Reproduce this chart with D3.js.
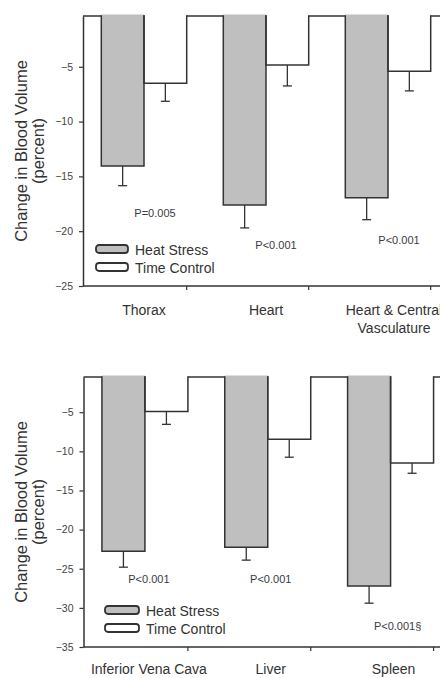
<!DOCTYPE html>
<html>
<head>
<meta charset="utf-8">
<script src="https://cdn.jsdelivr.net/npm/d3@7"></script>
<style>
  body { margin: 0; background: #fff; }
  svg { display: block; font-family: "Liberation Sans", Arial, sans-serif; }
</style>
</head>
<body>
<svg id="chart" width="440" height="678"></svg>
<script>
// top panel: whole-body regions
var topCategories = [["Thorax"], ["Heart"], ["Heart & Central", "Vasculature"]];
var topHeat = [-14.05, -17.6, -16.95];
var topHeatErr = [1.8, 2.1, 2.0];
var topControl = [-6.5, -4.85, -5.4];
var topControlErr = [1.65, 1.9, 1.8];
var topTicks = [-5, -10, -15, -20, -25];
var topPLabels = ["P=0.005", "P<0.001", "P<0.001"];
var topPValueY = [-18.7, -21.6, -21.2];

// bottom panel: organs
var botCategories = [["Inferior Vena Cava"], ["Liver"], ["Spleen"]];
var botHeat = [-22.75, -22.25, -27.2];
var botHeatErr = [2.05, 1.65, 2.2];
var botControl = [-4.9, -8.45, -11.5];
var botControlErr = [1.65, 2.3, 1.3];
var botTicks = [-5, -10, -15, -20, -25, -30, -35];
var botPLabels = ["P<0.001", "P<0.001", "P<0.001\u00a7"];
var botPValueY = [-26.8, -26.8, -32.8];

var seriesNames = ["Heat Stress", "Time Control"];
var seriesFill = ["#bfbfbf", "#ffffff"];
var ink = "#333";

var svg = d3.select("#chart");

function drawPanel(cfg) {
    var g = svg.append("g");
    var x = d3.scaleBand()
        .domain(d3.range(cfg.categories.length))
        .range([cfg.left, cfg.right])
        .paddingInner(0.3)
        .paddingOuter(0.15);
    var xs = d3.scaleBand().domain([0, 1]).range([0, x.bandwidth()]);
    var y = d3.scaleLinear().domain(cfg.domain).range([cfg.bottom, cfg.top]);

    // zero line along the top (bars cover it)
    g.append("line")
        .attr("x1", cfg.left).attr("x2", 440)
        .attr("y1", y(cfg.domain[1])).attr("y2", y(cfg.domain[1]))
        .attr("stroke", ink).attr("stroke-width", 1.5);

    var rows = [];
    cfg.categories.forEach(function (c, i) {
        rows.push({cat: i, s: 0, v: cfg.heat[i], e: cfg.heatErr[i]});
        rows.push({cat: i, s: 1, v: cfg.control[i], e: cfg.controlErr[i]});
    });

    // error bars (downward only)
    var eb = g.selectAll(".err").data(rows).enter().append("g");
    eb.append("line")
        .attr("x1", d => x(d.cat) + xs(d.s) + xs.bandwidth() / 2)
        .attr("x2", d => x(d.cat) + xs(d.s) + xs.bandwidth() / 2)
        .attr("y1", d => y(d.v)).attr("y2", d => y(d.v - d.e))
        .attr("stroke", ink).attr("stroke-width", 1.3);
    eb.append("line")
        .attr("x1", d => x(d.cat) + xs(d.s) + xs.bandwidth() / 2 - 4.5)
        .attr("x2", d => x(d.cat) + xs(d.s) + xs.bandwidth() / 2 + 4.5)
        .attr("y1", d => y(d.v - d.e)).attr("y2", d => y(d.v - d.e))
        .attr("stroke", ink).attr("stroke-width", 1.3);

    // bars: fill, then outline without the top edge
    g.selectAll(".barfill").data(rows).enter().append("rect")
        .attr("x", d => x(d.cat) + xs(d.s))
        .attr("y", y(cfg.domain[1]) - 1.5)
        .attr("width", xs.bandwidth())
        .attr("height", d => y(d.v) - y(cfg.domain[1]) + 1.5)
        .attr("fill", d => seriesFill[d.s]);
    g.selectAll(".barline").data(rows).enter().append("path")
        .attr("d", function (d) {
            var x0 = x(d.cat) + xs(d.s), x1 = x0 + xs.bandwidth();
            var t = y(cfg.domain[1]) - 0.75;
            return "M" + x0 + "," + t + "V" + y(d.v) + "H" + x1 + "V" + t;
        })
        .attr("fill", "none").attr("stroke", ink).attr("stroke-width", 1.5);

    // y axis
    var ya = g.append("g")
        .attr("transform", "translate(" + cfg.left + ",0)")
        .call(d3.axisLeft(y).tickValues(cfg.ticks).tickSize(4).tickSizeOuter(0).tickPadding(6));
    ya.select(".domain").attr("stroke", ink).attr("stroke-width", 1.5);
    ya.selectAll(".tick line").attr("stroke", ink).attr("stroke-width", 1.2);
    ya.selectAll("text").attr("font-size", 10.5).attr("fill", "#444")
        .attr("font-family", "'Liberation Sans', Arial, sans-serif");

    // x axis
    var xa = g.append("g")
        .attr("transform", "translate(0," + cfg.bottom + ")")
        .call(d3.axisBottom(x).tickSize(4).tickSizeOuter(0).tickFormat(""));
    xa.select(".domain").attr("d", "M" + cfg.left + ",0H440").attr("stroke", ink).attr("stroke-width", 1.5);
    xa.selectAll(".tick line")
        .attr("transform", "translate(" + x.bandwidth() / 2 + ",0)")
        .attr("stroke", ink).attr("stroke-width", 1.2);

    cfg.categories.forEach(function (lines, i) {
        var cx = x(i) + x.bandwidth() / 2 + cfg.labelShift[i];
        var t = g.append("text")
            .attr("text-anchor", "middle")
            .attr("font-size", 14).attr("fill", ink)
            .attr("x", cx)
            .attr("y", cfg.bottom + cfg.labelGap);
        lines.forEach(function (ln, k) {
            t.append("tspan").attr("x", cx)
                .attr("dy", k === 0 ? 0 : 18).text(ln);
        });
    });

    // p values
    g.selectAll(".pval").data(cfg.pLabels).enter().append("text")
        .attr("text-anchor", "middle")
        .attr("font-size", 11).attr("fill", "#3a3a44")
        .attr("x", (d, i) => x(i) + x.bandwidth() / 2 + cfg.pShift[i])
        .attr("y", (d, i) => y(cfg.pY[i]))
        .text(d => d);

    // y title
    var mid = (cfg.top + cfg.bottom) / 2;
    g.append("text")
        .attr("transform", "translate(27," + mid + ") rotate(-90)")
        .attr("text-anchor", "middle").attr("font-size", 16.5).attr("fill", ink)
        .text("Change in Blood Volume");
    g.append("text")
        .attr("transform", "translate(44," + mid + ") rotate(-90)")
        .attr("text-anchor", "middle").attr("font-size", 16.5).attr("fill", ink)
        .text("(percent)");

    // legend
    var lg = g.append("g").attr("transform", "translate(" + cfg.legend[0] + "," + cfg.legend[1] + ")");
    seriesNames.forEach(function (name, i) {
        lg.append("rect")
            .attr("x", 0).attr("y", i * 18)
            .attr("width", cfg.swatchW).attr("height", 8)
            .attr("rx", 3)
            .attr("fill", seriesFill[i]).attr("stroke", ink).attr("stroke-width", 1.8);
        lg.append("text")
            .attr("x", cfg.swatchW + 7).attr("y", i * 18 + 10)
            .attr("font-size", 14).attr("fill", ink)
            .text(name);
    });
}

drawPanel({
    categories: topCategories, heat: topHeat, heatErr: topHeatErr,
    control: topControl, controlErr: topControlErr, ticks: topTicks,
    pLabels: topPLabels, pY: topPValueY, pShift: [11, 10, 11],
    labelShift: [0, 0, 6], labelGap: 29,
    domain: [-25, -0.37], left: 83, right: 449, top: 16, bottom: 286,
    legend: [96, 245], swatchW: 32
});

drawPanel({
    categories: botCategories, heat: botHeat, heatErr: botHeatErr,
    control: botControl, controlErr: botControlErr, ticks: botTicks,
    pLabels: botPLabels, pY: botPValueY, pShift: [4, 3, 7],
    labelShift: [4, 3, 3], labelGap: 27,
    domain: [-35, -0.5], left: 83.5, right: 452, top: 377, bottom: 647,
    legend: [105, 606], swatchW: 34
});
</script>
</body>
</html>
